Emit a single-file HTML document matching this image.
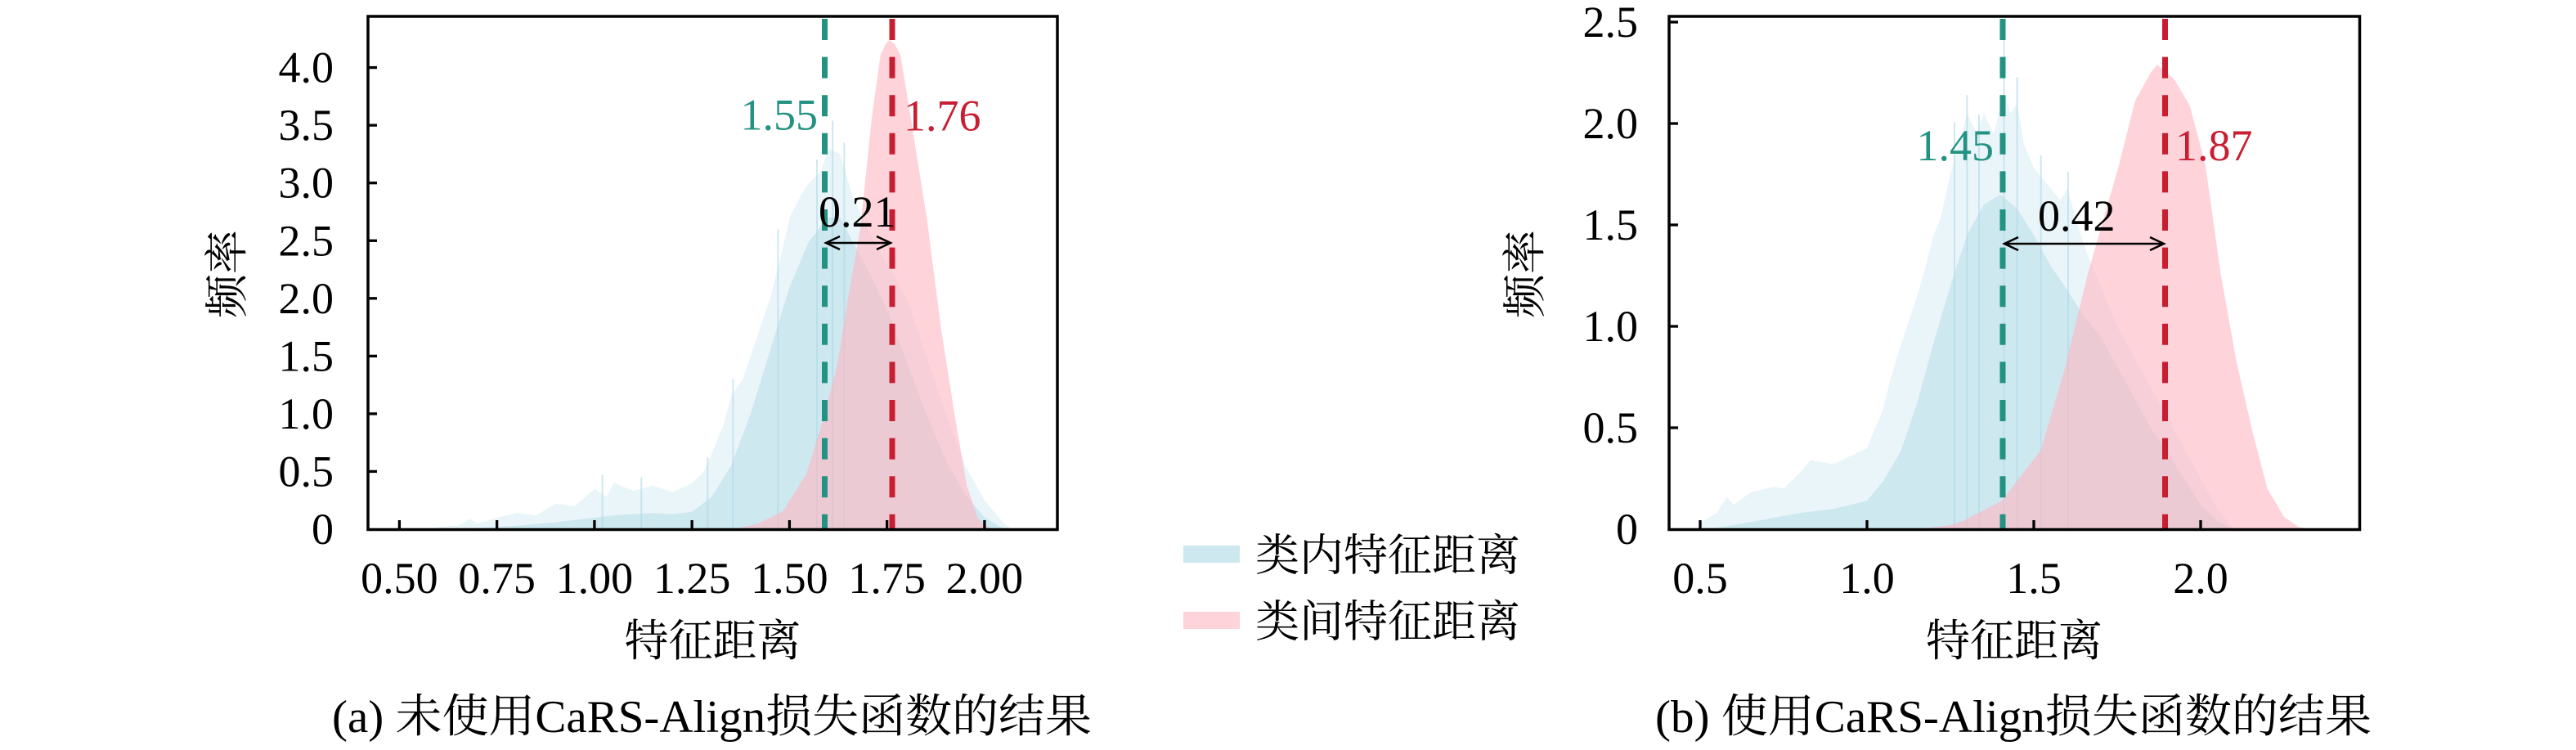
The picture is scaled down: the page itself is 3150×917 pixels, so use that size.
<!DOCTYPE html>
<html>
<head>
<meta charset="utf-8">
<style>
html,body{margin:0;padding:0;background:#fff;}
svg{display:block;}
text{font-family:"Liberation Serif","Noto Serif CJK SC",serif;}
</style>
</head>
<body>
<svg width="3150" height="917" viewBox="0 0 3150 917" xmlns="http://www.w3.org/2000/svg">
<defs>
<clipPath id="clA"><rect x="450" y="20" width="843" height="627.5"/></clipPath>
<clipPath id="clB"><rect x="2041" y="20" width="844.5" height="627.5"/></clipPath>
</defs>
<rect width="3150" height="917" fill="#fff"/>

<!-- ================= LEFT PLOT ================= -->
<g clip-path="url(#clA)">
<g transform="matrix(477,0,0,-141.1,250.1,647)">
<polygon fill="#add8e6" fill-opacity="0.25" points="0.59,0 0.60,0.02 0.65,0.03 0.68,0.09 0.70,0.05 0.75,0.10 0.80,0.14 0.85,0.12 0.90,0.22 0.95,0.2 1.00,0.35 1.03,0.28 1.05,0.40 1.10,0.33 1.15,0.38 1.20,0.32 1.25,0.40 1.28,0.5 1.30,0.65 1.33,0.9 1.35,1.15 1.38,1.3 1.40,1.50 1.43,1.8 1.45,2.00 1.48,2.4 1.50,2.70 1.53,2.9 1.55,3.00 1.58,3.1 1.60,3.30 1.63,3.25 1.66,2.90 1.70,2.60 1.75,2.30 1.80,2.00 1.85,1.50 1.90,1.00 1.95,0.55 2.00,0.25 2.05,0.05 2.07,0"/>
<polygon fill="#add8e6" fill-opacity="0.467" points="0.62,0 0.70,0.01 0.80,0.03 0.90,0.06 1.00,0.10 1.05,0.12 1.10,0.13 1.15,0.14 1.20,0.13 1.25,0.15 1.30,0.28 1.35,0.55 1.40,1.00 1.45,1.55 1.50,2.10 1.55,2.50 1.60,2.70 1.63,2.70 1.66,2.50 1.70,2.25 1.75,1.90 1.80,1.45 1.85,1.00 1.90,0.60 1.95,0.30 2.00,0.10 2.05,0"/>
</g>
<g stroke="#add8e6" stroke-opacity="0.6" stroke-width="2">
<line x1="736.6" y1="580.7" x2="736.6" y2="647"/>
<line x1="784.3" y1="583.5" x2="784.3" y2="647"/>
<line x1="865.4" y1="559.5" x2="865.4" y2="647"/>
<line x1="896.4" y1="463.6" x2="896.4" y2="647"/>
<line x1="951.3" y1="280.2" x2="951.3" y2="647"/>
<line x1="999.0" y1="195.3" x2="999.0" y2="647"/>
<line x1="1018.1" y1="147.5" x2="1018.1" y2="647"/>
<line x1="1032.4" y1="174.3" x2="1032.4" y2="647"/>
</g>
<g transform="matrix(477,0,0,-141.1,250.1,647)">
<polygon fill="#ffb6c1" fill-opacity="0.6" points="1.36,0 1.42,0.05 1.483,0.156 1.53,0.41 1.542,0.47 1.586,0.95 1.622,1.42 1.652,2.05 1.681,2.6 1.71,3.55 1.733,4.11 1.745,4.2 1.755,4.24 1.77,4.2 1.784,4.11 1.807,3.64 1.83,3.15 1.852,2.69 1.888,1.74 1.925,0.95 1.954,0.38 1.983,0.09 2.013,0.01 2.03,0"/>
</g>
</g>

<!-- dashed mean lines left -->
<line x1="1008.5" y1="23" x2="1008.5" y2="647" stroke="#239282" stroke-width="7" stroke-dasharray="26 20.6"/>
<line x1="1091" y1="23" x2="1091" y2="647" stroke="#c81e32" stroke-width="7" stroke-dasharray="26 20.6"/>

<!-- arrow left -->
<g stroke="#000" stroke-width="2.5" fill="none">
<path d="M1010,297 L1089,297"/>
<path d="M1027,289 L1010,297 L1027,305"/>
<path d="M1072,289 L1089,297 L1072,305"/>
</g>

<text x="1000" y="158.5" font-size="54" fill="#239282" text-anchor="end">1.55</text>
<text x="1105" y="159.5" font-size="54" fill="#c81e32">1.76</text>
<text x="1001" y="277" font-size="54" fill="#000">0.21</text>

<!-- ticks left -->
<g stroke="#000" stroke-width="3.3">
<line x1="488.4" y1="647" x2="488.4" y2="636"/>
<line x1="607.65" y1="647" x2="607.65" y2="636"/>
<line x1="726.9" y1="647" x2="726.9" y2="636"/>
<line x1="846.15" y1="647" x2="846.15" y2="636"/>
<line x1="965.4" y1="647" x2="965.4" y2="636"/>
<line x1="1084.65" y1="647" x2="1084.65" y2="636"/>
<line x1="1203.9" y1="647" x2="1203.9" y2="636"/>
<line x1="450" y1="576.45" x2="461" y2="576.45"/>
<line x1="450" y1="505.9" x2="461" y2="505.9"/>
<line x1="450" y1="435.35" x2="461" y2="435.35"/>
<line x1="450" y1="364.8" x2="461" y2="364.8"/>
<line x1="450" y1="294.25" x2="461" y2="294.25"/>
<line x1="450" y1="223.7" x2="461" y2="223.7"/>
<line x1="450" y1="153.15" x2="461" y2="153.15"/>
<line x1="450" y1="82.6" x2="461" y2="82.6"/>
</g>
<rect x="450" y="20" width="843" height="627.5" fill="none" stroke="#000" stroke-width="3.5"/>

<g font-size="54" fill="#000" text-anchor="end">
<text x="408" y="665">0</text>
<text x="408" y="594.5">0.5</text>
<text x="408" y="524">1.0</text>
<text x="408" y="453.4">1.5</text>
<text x="408" y="382.8">2.0</text>
<text x="408" y="312.3">2.5</text>
<text x="408" y="241.7">3.0</text>
<text x="408" y="171.2">3.5</text>
<text x="408" y="100.6">4.0</text>
</g>
<g font-size="54" fill="#000" text-anchor="middle">
<text x="488.4" y="725">0.50</text>
<text x="607.65" y="725">0.75</text>
<text x="726.9" y="725">1.00</text>
<text x="846.15" y="725">1.25</text>
<text x="965.4" y="725">1.50</text>
<text x="1084.65" y="725">1.75</text>
<text x="1203.9" y="725">2.00</text>
</g>
<text x="871.5" y="802" font-size="54" text-anchor="middle">特征距离</text>
<text transform="translate(296,335) rotate(-90)" font-size="54" text-anchor="middle">频率</text>
<text x="406" y="895" font-size="56" textLength="929" lengthAdjust="spacingAndGlyphs">(a) 未使用CaRS-Align损失函数的结果</text>

<!-- ================= LEGEND ================= -->
<rect x="1447" y="667" width="69" height="21" fill="#add8e6" fill-opacity="0.6"/>
<rect x="1447" y="748" width="69" height="21" fill="#ffb6c1" fill-opacity="0.6"/>
<text x="1535" y="697.5" font-size="54">类内特征距离</text>
<text x="1535" y="778.5" font-size="54">类间特征距离</text>

<!-- ================= RIGHT PLOT ================= -->
<g clip-path="url(#clB)">
<g transform="matrix(408,0,0,-248,1875,647)">
<polygon fill="#add8e6" fill-opacity="0.25" points="0.49,0 0.50,0.03 0.55,0.08 0.58,0.16 0.60,0.12 0.65,0.18 0.70,0.20 0.72,0.21 0.75,0.2 0.80,0.28 0.83,0.34 0.90,0.32 0.95,0.36 1.00,0.40 1.05,0.60 1.07,0.74 1.10,0.90 1.15,1.15 1.16,1.2 1.20,1.45 1.22,1.53 1.25,1.75 1.30,2.05 1.33,1.95 1.35,2.05 1.38,1.95 1.41,2.15 1.43,2.05 1.45,2.1 1.47,1.9 1.50,1.78 1.55,1.68 1.58,1.62 1.60,1.68 1.65,1.40 1.70,1.20 1.75,1.00 1.80,0.85 1.85,0.70 1.90,0.55 1.95,0.40 2.00,0.25 2.05,0.10 2.10,0"/>
<polygon fill="#add8e6" fill-opacity="0.467" points="0.52,0 0.60,0.02 0.70,0.05 0.80,0.08 0.90,0.10 1.00,0.14 1.05,0.24 1.10,0.38 1.15,0.62 1.20,0.92 1.25,1.20 1.30,1.45 1.35,1.60 1.40,1.65 1.45,1.58 1.50,1.45 1.55,1.30 1.60,1.18 1.65,1.05 1.70,0.95 1.75,0.80 1.80,0.65 1.85,0.50 1.90,0.38 1.95,0.25 2.00,0.12 2.05,0.04 2.10,0"/>
</g>
<g stroke="#add8e6" stroke-opacity="0.6" stroke-width="2">
<line x1="2405.4" y1="116.3" x2="2405.4" y2="647"/>
<line x1="2450.5" y1="44.4" x2="2450.5" y2="647"/>
<line x1="2466.6" y1="94" x2="2466.6" y2="647"/>
<line x1="2495.7" y1="190" x2="2495.7" y2="647"/>
<line x1="2529" y1="210" x2="2529" y2="647"/>
<line x1="2390" y1="150" x2="2390" y2="647"/>
<line x1="2420" y1="140" x2="2420" y2="647"/>
</g>
<g transform="matrix(408,0,0,-248,1875,647)">
<polygon fill="#ffb6c1" fill-opacity="0.6" points="1.15,0 1.25,0.02 1.287,0.04 1.404,0.14 1.521,0.39 1.591,0.78 1.662,1.26 1.709,1.53 1.756,1.80 1.803,2.11 1.85,2.25 1.87,2.29 1.92,2.22 1.967,2.09 2.014,1.80 2.06,1.26 2.107,0.83 2.154,0.49 2.2,0.2 2.25,0.06 2.295,0.01 2.33,0"/>
</g>
</g>

<line x1="2449" y1="23" x2="2449" y2="647" stroke="#239282" stroke-width="7" stroke-dasharray="26 20.6"/>
<line x1="2647.5" y1="23" x2="2647.5" y2="647" stroke="#c81e32" stroke-width="7" stroke-dasharray="26 20.6"/>

<g stroke="#000" stroke-width="2.5" fill="none">
<path d="M2451,298 L2646,298"/>
<path d="M2468,290 L2451,298 L2468,306"/>
<path d="M2629,290 L2646,298 L2629,306"/>
</g>

<text x="2438" y="196" font-size="54" fill="#239282" text-anchor="end">1.45</text>
<text x="2660" y="196" font-size="54" fill="#c81e32">1.87</text>
<text x="2492" y="282" font-size="54" fill="#000">0.42</text>

<g stroke="#000" stroke-width="3.3">
<line x1="2079" y1="647" x2="2079" y2="636"/>
<line x1="2283" y1="647" x2="2283" y2="636"/>
<line x1="2487" y1="647" x2="2487" y2="636"/>
<line x1="2691" y1="647" x2="2691" y2="636"/>
<line x1="2041" y1="523" x2="2052" y2="523"/>
<line x1="2041" y1="399" x2="2052" y2="399"/>
<line x1="2041" y1="275" x2="2052" y2="275"/>
<line x1="2041" y1="151" x2="2052" y2="151"/>
<line x1="2041" y1="27" x2="2052" y2="27"/>
</g>
<rect x="2041" y="20" width="844.5" height="627.5" fill="none" stroke="#000" stroke-width="3.5"/>

<g font-size="54" fill="#000" text-anchor="end">
<text x="2003" y="665">0</text>
<text x="2003" y="541">0.5</text>
<text x="2003" y="417">1.0</text>
<text x="2003" y="293">1.5</text>
<text x="2003" y="169">2.0</text>
<text x="2003" y="45">2.5</text>
</g>
<g font-size="54" fill="#000" text-anchor="middle">
<text x="2079" y="725">0.5</text>
<text x="2283" y="725">1.0</text>
<text x="2487" y="725">1.5</text>
<text x="2691" y="725">2.0</text>
</g>
<text x="2463" y="802" font-size="54" text-anchor="middle">特征距离</text>
<text transform="translate(1883,335) rotate(-90)" font-size="54" text-anchor="middle">频率</text>
<text x="2024" y="895" font-size="56" textLength="876" lengthAdjust="spacingAndGlyphs">(b) 使用CaRS-Align损失函数的结果</text>
</svg>
</body>
</html>
